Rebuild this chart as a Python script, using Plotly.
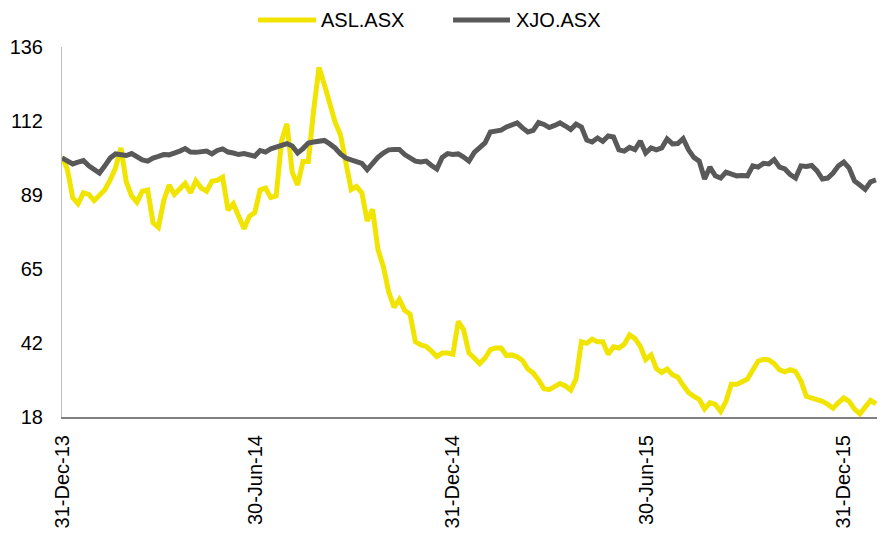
import pandas as pd
import plotly.graph_objects as go

# Observation dates: one sample every five calendar days
dates = pd.date_range("2013-12-31", periods=153, freq="5D")

# Rebased closing levels (start = 100)
asl_values = [
    101, 97, 88, 86, 89.5, 89, 87, 89, 90.5, 93.6,
    97.5, 103.8, 93, 88.5, 86.5, 90, 90.4, 80, 78.5, 87,
    92, 89, 91, 92.5, 89.5, 93.3, 91, 90, 93.2, 93.5,
    94.5, 84, 86, 82, 78, 82, 83.2, 90.4, 91, 88,
    88.5, 106, 111.5, 96, 92, 99.5, 99.5, 116, 129.5, 124,
    118, 112, 108, 99, 90.5, 91.5, 89.5, 80.5, 84.2, 71.5,
    66, 58, 53, 55.5, 52, 50.8, 42, 41, 40.5, 39,
    37.3, 38.4, 38.4, 38, 48.5, 45.8, 38.4, 36.8, 35, 36.8,
    39.5, 40, 40, 37.6, 37.8, 37.2, 36, 33.3, 32, 29.8,
    27, 26.7, 27.6, 28.7, 27.9, 26.6, 30.2, 42, 41.5, 42.8,
    42, 42, 38, 40.4, 40, 41.2, 44.2, 43, 40.5, 36.3,
    37.8, 33.4, 32.2, 33.3, 31.5, 30.7, 28.1, 25.8, 24.6, 23.6,
    20.6, 22.6, 22, 19.8, 23, 28.5, 28.4, 29.4, 30.1, 33,
    35.8, 36.4, 36.2, 35, 33, 32.4, 33.1, 32.5, 29.5, 24.6,
    24.1, 23.6, 23, 22, 20.8, 22.6, 24.1, 23, 20.5, 19,
    21, 23.3, 22.2,
]

xjo_values = [
    100.6, 99.5, 98.7, 99.3, 99.8, 98.1, 97.1, 95.8, 98.1, 100.6,
    101.9, 101.6, 101.4, 102.0, 100.9, 100.0, 99.6, 100.6, 101.1, 101.7,
    101.6, 102.0, 102.8, 103.6, 102.5, 102.4, 102.5, 102.8, 101.9, 103.0,
    103.5, 102.5, 102.2, 101.7, 102.0, 101.6, 101.2, 103.0, 102.5, 103.5,
    104.0, 104.6, 105.2, 104.4, 102.2, 103.6, 105.4, 105.7, 105.9, 106.2,
    105.1, 103.8, 101.9, 100.6, 100.0, 99.5, 98.9, 96.9, 99.0, 100.8,
    102.2, 103.2, 103.3, 103.3, 101.7, 100.6, 99.6, 99.3, 99.6, 98.2,
    97.1, 100.8, 102.0, 101.7, 101.9, 100.9, 99.6, 102.4, 104.1, 105.4,
    108.9, 109.4, 109.5, 110.5, 111.0, 111.8, 110.2, 108.9, 109.4, 111.9,
    111.3, 110.3, 111.0, 111.8, 110.8, 109.7, 111.4, 110.5, 106.3, 105.7,
    107.0, 105.9, 107.6, 107.3, 103.2, 102.8, 104.0, 103.3, 106.0, 102.2,
    103.8, 103.2, 103.8, 106.7, 105.1, 105.2, 106.8, 103.2, 100.8, 99.6,
    93.9, 97.7, 94.9, 94.2, 96.1, 95.5, 94.9, 95.0, 94.9, 98.1,
    97.7, 98.9, 98.7, 100.1, 97.7, 97.1, 95.3, 94.2, 98.1, 97.9,
    98.2, 96.5, 93.9, 94.2, 95.8, 98.1, 99.3, 97.4, 93.3, 92.0,
    90.6, 93.0, 93.6,
]

series_names = ["ASL.ASX", "XJO.ASX"]
series_colors = ["#F0E400", "#595959"]

y_tick_vals = [18, 41.6, 65.2, 88.8, 112.4, 136]
y_tick_text = ["18", "42", "65", "89", "112", "136"]
x_tick_vals = ["2013-12-31", "2014-06-30", "2014-12-31", "2015-06-30", "2015-12-31"]
x_tick_text = ["31-Dec-13", "30-Jun-14", "31-Dec-14", "30-Jun-15", "31-Dec-15"]

FONT = "Liberation Sans, Arial, sans-serif"

fig = go.Figure()
for name, vals, col in zip(series_names, [asl_values, xjo_values], series_colors):
    fig.add_trace(go.Scatter(
        x=dates, y=vals, name=name, mode="lines",
        line=dict(color=col, width=5),
        showlegend=False,
    ))

# Legend drawn above the plot: a short line sample followed by the series name
legend_y = 1.073
legend_items = [(0.2405, 0.3117, 0.3150), (0.4798, 0.5497, 0.5545)]
for (x0, x1, xt), name, col in zip(legend_items, series_names, series_colors):
    fig.add_shape(type="line", xref="paper", yref="paper",
                  x0=x0, x1=x1, y0=legend_y, y1=legend_y,
                  line=dict(color=col, width=5))
    fig.add_annotation(xref="paper", yref="paper", x=xt, y=legend_y,
                       text=name, showarrow=False, xanchor="left", yanchor="middle",
                       font=dict(family=FONT, size=20, color="#000000"))

fig.update_layout(
    width=885, height=535,
    margin=dict(l=62, r=8, t=47, b=118),
    paper_bgcolor="white", plot_bgcolor="white",
    font=dict(family=FONT, size=20, color="#000000"),
    showlegend=False,
)
fig.update_xaxes(
    type="date",
    range=["2013-12-31", "2016-01-31"],
    tickvals=x_tick_vals, ticktext=x_tick_text,
    tickangle=-90, ticks="", showgrid=False, zeroline=False,
    showline=True, linecolor="#808080", linewidth=2,
    ticklabelstandoff=8,
    tickfont=dict(family=FONT, size=20, color="#000000"),
)
fig.update_yaxes(
    range=[18, 136],
    tickvals=y_tick_vals, ticktext=y_tick_text,
    ticks="", showgrid=False, zeroline=False,
    showline=True, linecolor="#BFBFBF", linewidth=1,
    ticklabelstandoff=14,
    tickfont=dict(family=FONT, size=20, color="#000000"),
)

fig.write_html("out.html")
